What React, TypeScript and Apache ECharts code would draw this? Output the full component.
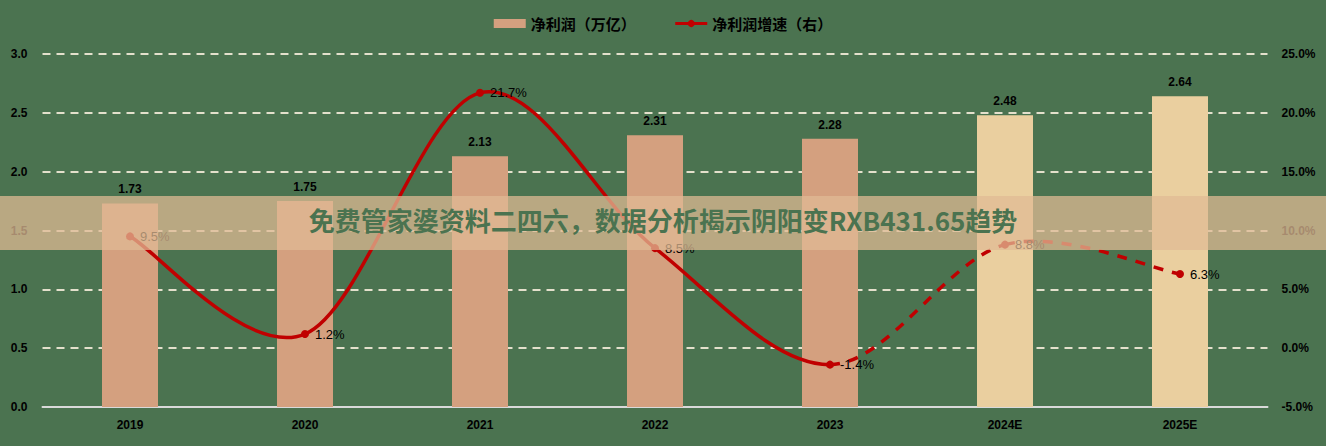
import React, { useEffect, useRef } from "react";
import * as echarts from "echarts";

const categories = ["2019", "2020", "2021", "2022", "2023", "2024E", "2025E"];
const profit = [1.73, 1.75, 2.13, 2.31, 2.28, 2.48, 2.64];
const growth = [9.5, 1.2, 21.7, 8.5, -1.4, 8.8, 6.3];
const forecastFrom = 5;
const bannerText = "免费管家婆资料二四六，数据分析揭示阴阳变RXB431.65趋势";

const BG = "#4b7350";
const SALMON = "#d4a07f";
const BEIGE = "#eacf9f";
const RED = "#c00000";

// Excel-like smoothed curve through the growth points, drawn from axis coords
function renderCurve(_params: any, api: any) {
  const pts = growth.map((v, i) => api.coord([i, v]));
  const n = pts.length;
  const children: any[] = [];
  for (let i = 0; i < n - 1; i++) {
    const p0 = pts[Math.max(i - 1, 0)];
    const p1 = pts[i];
    const p2 = pts[i + 1];
    const p3 = pts[Math.min(i + 2, n - 1)];
    const dashed = i + 1 >= forecastFrom;
    children.push({
      type: "bezierCurve",
      shape: {
        x1: p1[0],
        y1: p1[1],
        cpx1: p1[0] + (p2[0] - p0[0]) / 6,
        cpy1: p1[1] + (p2[1] - p0[1]) / 6,
        cpx2: p2[0] - (p3[0] - p1[0]) / 6,
        cpy2: p2[1] - (p3[1] - p1[1]) / 6,
        x2: p2[0],
        y2: p2[1],
      },
      style: {
        stroke: RED,
        lineWidth: 3.5,
        fill: "none",
        lineDash: dashed ? [10, 9] : null,
      },
    });
  }
  return { type: "group", children };
}

export default function App() {
  const ref = useRef<HTMLDivElement>(null);
  useEffect(() => {
    if (!ref.current) return;
    const chart = echarts.init(ref.current, undefined, { renderer: "svg" });
    const axisFont = {
      color: "#000",
      fontWeight: "bold" as const,
      fontSize: 12,
      fontFamily: "Liberation Sans Narrow, Liberation Sans, Arial",
    };
    chart.setOption({
      animation: false,
      backgroundColor: BG,
      textStyle: { fontFamily: "Liberation Sans, Arial" },
      legend: {
        top: 11,
        left: "center",
        itemGap: 38,
        itemWidth: 32,
        itemHeight: 9,
        textStyle: {
          color: "#000",
          fontWeight: "bold",
          fontSize: 15,
          fontFamily: "Noto Sans CJK SC",
        },
        data: [
          { name: "净利润（万亿）", icon: "rect" },
          {
            name: "净利润增速（右）",
            lineStyle: { color: RED, width: 3, opacity: 1 },
            itemStyle: { color: RED },
          },
        ],
      },
      grid: { left: 42.5, right: 58.5, top: 54, bottom: 39 },
      xAxis: {
        type: "category",
        data: categories,
        axisLine: { lineStyle: { color: "#d9d9d9", width: 2 } },
        axisTick: { show: false },
        axisLabel: { ...axisFont, margin: 12 },
      },
      yAxis: [
        {
          type: "value",
          min: 0,
          max: 3,
          interval: 0.5,
          axisLine: { show: false },
          axisTick: { show: false },
          axisLabel: { ...axisFont, margin: 15, formatter: (v: number) => v.toFixed(1) },
          splitLine: {
            lineStyle: { color: "#e4e0cc", type: [8, 6], width: 2 },
          },
        },
        {
          type: "value",
          min: -5,
          max: 25,
          interval: 5,
          axisLine: { show: false },
          axisTick: { show: false },
          splitLine: { show: false },
          axisLabel: { ...axisFont, margin: 14, formatter: (v: number) => v.toFixed(1) + "%" },
        },
      ],
      series: [
        {
          name: "净利润（万亿）",
          type: "bar",
          barWidth: 56,
          itemStyle: { color: SALMON },
          data: profit.map((v, i) => ({
            value: v,
            itemStyle: { color: i >= forecastFrom ? BEIGE : SALMON },
          })),
          label: {
            show: true,
            position: "top",
            distance: 8,
            color: "#000",
            fontWeight: "bold",
            fontSize: 12,
            formatter: (p: any) => p.value.toFixed(2),
          },
        },
        {
          name: "curve",
          type: "custom",
          yAxisIndex: 1,
          silent: true,
          renderItem: renderCurve,
          data: [[0, growth[0]]],
          z: 4,
        },
        {
          name: "净利润增速（右）",
          type: "line",
          yAxisIndex: 1,
          symbol: "circle",
          symbolSize: 8,
          lineStyle: { color: RED, width: 3, opacity: 0 },
          itemStyle: { color: RED },
          data: growth,
          label: {
            show: true,
            position: "right",
            distance: 6,
            color: "#000",
            fontSize: 13,
            formatter: (p: any) => p.value.toFixed(1) + "%",
          },
          z: 5,
        },
      ],
      graphic: [
        {
          type: "rect",
          left: 0,
          top: 196,
          z: 100,
          shape: { width: 1326, height: 54 },
          style: { fill: "rgba(224,186,148,0.74)" },
        },
        {
          type: "text",
          left: "center",
          top: 206,
          z: 101,
          style: {
            text: bannerText,
            fill: BG,
            font: "bold 26px 'Noto Sans CJK SC'",
          },
        },
      ],
    });
    return () => chart.dispose();
  }, []);
  return (
    <div
      ref={ref}
      style={{ position: "fixed", left: 0, top: 0, width: 1326, height: 446 }}
    />
  );
}
